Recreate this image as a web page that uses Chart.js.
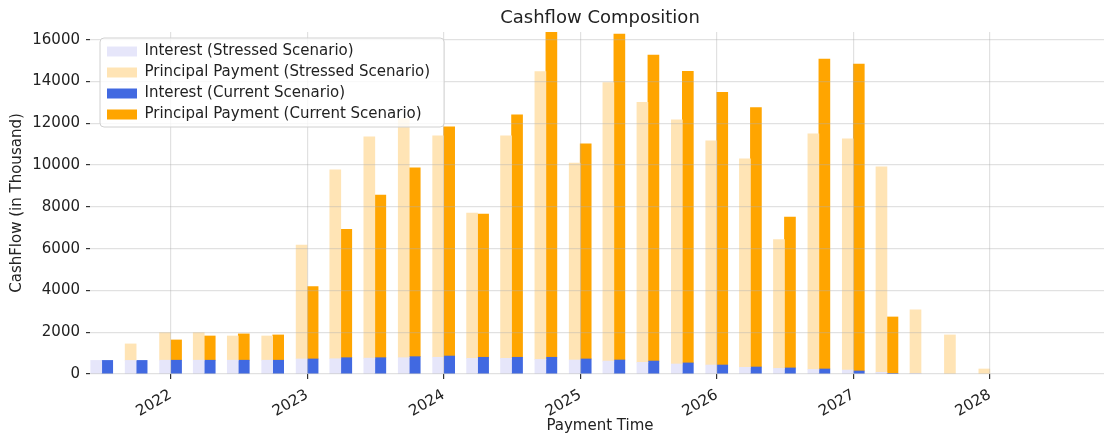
<!DOCTYPE html>
<html>
<head>
<meta charset="utf-8">
<script src="https://cdn.jsdelivr.net/npm/chart.js@4.4.1/dist/chart.umd.min.js"></script>
<style>
  html, body { margin: 0; padding: 0; background: #fff; overflow: hidden; }
  canvas { display: block; }
</style>
</head>
<body>
<canvas id="cashflow" width="1110" height="435"></canvas>
<script>
// quarterly payment dates
const paymentDates = [
  "2021-07-01", "2021-10-01", "2022-01-01", "2022-04-01", "2022-07-01", "2022-10-01",
  "2023-01-01", "2023-04-01", "2023-07-01", "2023-10-01", "2024-01-01", "2024-04-01",
  "2024-07-01", "2024-10-01", "2025-01-01", "2025-04-01", "2025-07-01", "2025-10-01",
  "2026-01-01", "2026-04-01", "2026-07-01", "2026-10-01", "2027-01-01", "2027-04-01",
  "2027-07-01", "2027-10-01", "2028-01-01"
];

// values in thousands
const interestStressed = [
  650, 650, 660, 660, 660, 660, 720, 730, 760, 780, 800, 750,
  750, 700, 670, 620, 560, 480, 430, 320, 270, 220, 190, 80,
  20, 0, 0
];
const principalStressed = [
  0, 790, 1320, 1320, 1160, 1160, 5450, 9040, 10590, 11450, 10600, 6950,
  10650, 13780, 9420, 13330, 12440, 11690, 10730, 9980, 6160, 11270, 11070, 9840,
  3050, 1870, 240
];
const interestCurrent = [
  650, 650, 660, 660, 660, 660, 720, 780, 780, 830, 860, 800,
  800, 800, 720, 670, 620, 530, 430, 335, 290, 240, 145, 30,
  0, 0, 0
];
const principalCurrent = [
  0, 0, 970, 1160, 1260, 1210, 3460, 6150, 7790, 9040, 10970, 6850,
  11610, 15570, 10300, 15600, 14640, 13960, 13050, 12420, 7220, 14830, 14690, 2700,
  0, 0, 0
];

const yearTicks = [2022, 2023, 2024, 2025, 2026, 2027, 2028];
const amountTicks = [0, 2000, 4000, 6000, 8000, 10000, 12000, 14000, 16000];

const FONT = "'DejaVu Sans', sans-serif";
const TEXT = "#222222";
const GRID = "rgba(176,176,176,0.38)";

// date string -> fractional year, so the x axis can stay linear
function toYear(s) {
  const [y, m, d] = s.split("-").map(Number);
  const start = Date.UTC(y, 0, 1);
  const end = Date.UTC(y + 1, 0, 1);
  return y + (Date.UTC(y, m - 1, d) - start) / (end - start);
}

// zero amounts are left out so no hairline bar is drawn for them
function points(values) {
  return values
    .map((v, i) => ({ x: toYear(paymentDates[i]), y: v }))
    .filter(p => p.y > 0);
}

const maxTotal = Math.max(
  ...interestCurrent.map((v, i) => v + principalCurrent[i]),
  ...interestStressed.map((v, i) => v + principalStressed[i])
);

// legend drawn above grid and bars, inside a framed box like matplotlib
const legendOnTop = {
  id: "legendOnTop",
  afterInit(chart) {
    const legend = chart.legend;
    legend._layers = () => [{
      z: 2,
      draw(area) {
        const boxes = legend.legendHitBoxes;
        if (!boxes || !boxes.length) return;
        const ctx = chart.ctx;
        const dx = chart.chartArea.left + 17 - boxes[0].left;
        const dy = chart.chartArea.top + 12 - boxes[0].top;
        const left = Math.min(...boxes.map(b => b.left)) - 7;
        const top = Math.min(...boxes.map(b => b.top)) - 6;
        const right = Math.max(...boxes.map(b => b.left + b.width)) + 14;
        const bottom = Math.max(...boxes.map(b => b.top + b.height)) + 5;
        ctx.save();
        ctx.translate(dx, dy);
        ctx.beginPath();
        if (ctx.roundRect) ctx.roundRect(left, top, right - left, bottom - top, 4);
        else ctx.rect(left, top, right - left, bottom - top);
        ctx.fillStyle = "rgba(255,255,255,0.8)";
        ctx.fill();
        ctx.strokeStyle = "#d0d0d0";
        ctx.lineWidth = 1;
        ctx.stroke();
        legend.draw(area);
        ctx.restore();
      }
    }];
  }
};

new Chart(document.getElementById("cashflow"), {
  type: "bar",
  data: {
    datasets: [
      { label: "Interest (Stressed Scenario)", data: points(interestStressed), stack: "stressed", backgroundColor: "#E6E6FA" },
      { label: "Principal Payment (Stressed Scenario)", data: points(principalStressed), stack: "stressed", backgroundColor: "#FFE4B5" },
      { label: "Interest (Current Scenario)", data: points(interestCurrent), stack: "current", backgroundColor: "#4169E1" },
      { label: "Principal Payment (Current Scenario)", data: points(principalCurrent), stack: "current", backgroundColor: "#FFA500" }
    ]
  },
  options: {
    responsive: false,
    animation: false,
    devicePixelRatio: 1,
    layout: { padding: 0 },
    datasets: {
      bar: { barThickness: 11, borderWidth: 0 }
    },
    plugins: {
      title: {
        display: true,
        text: "Cashflow Composition",
        fullSize: false,
        color: TEXT,
        font: { family: FONT, size: 18, weight: "normal" },
        padding: { top: 8, bottom: 2.4 }
      },
      legend: {
        position: "chartArea",
        align: "start",
        labels: {
          boxWidth: 30,
          boxHeight: 10,
          padding: 6,
          color: TEXT,
          font: { family: FONT, size: 15 }
        }
      },
      tooltip: { enabled: false }
    },
    scales: {
      x: {
        type: "linear",
        min: 2021.41,
        max: 2028.88,
        offset: false,
        border: { display: false },
        grid: { color: GRID, lineWidth: 1.2, z: 1, offset: false, tickLength: 5, tickColor: "#333333" },
        ticks: {
          color: TEXT,
          font: { family: FONT, size: 15 },
          minRotation: 30,
          maxRotation: 30,
          autoSkip: false,
          padding: 7,
          callback: (v) => String(v)
        },
        title: {
          display: true,
          text: "Payment Time",
          color: TEXT,
          font: { family: FONT, size: 15 },
          padding: { top: 0, bottom: 0 }
        },
        afterBuildTicks: (scale) => { scale.ticks = yearTicks.map(v => ({ value: v })); },
        afterFit: (scale) => { scale.height = 61; }
      },
      y: {
        min: 0,
        max: maxTotal,
        border: { display: false },
        grid: { color: GRID, lineWidth: 1.2, z: 1, tickLength: 4, tickColor: "#333333" },
        ticks: {
          color: TEXT,
          font: { family: FONT, size: 15 },
          padding: 6,
          callback: (v) => String(v)
        },
        title: {
          display: true,
          text: "CashFlow (in Thousand)",
          color: TEXT,
          font: { family: FONT, size: 15 },
          padding: { top: 8, bottom: 0 }
        },
        afterBuildTicks: (scale) => { scale.ticks = amountTicks.map(v => ({ value: v })); },
        afterFit: (scale) => { scale.width = 90; }
      }
    }
  },
  plugins: [legendOnTop]
});
</script>
</body>
</html>
